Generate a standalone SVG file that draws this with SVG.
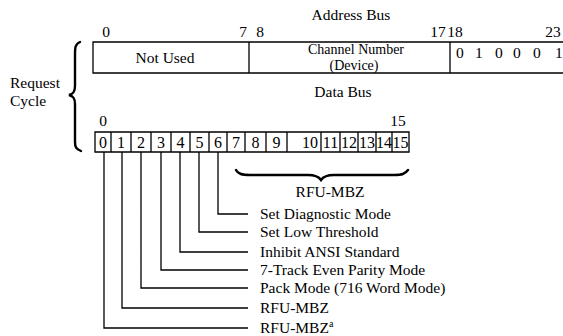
<svg xmlns="http://www.w3.org/2000/svg" width="563" height="336" viewBox="0 0 563 336">
<style>
text{font-family:"Liberation Serif","Times New Roman",serif;font-size:15.5px;fill:#000}
.c{text-anchor:middle}
.d{font-size:16px;text-anchor:middle}
.s{font-size:14px}
.ln{stroke:#000;stroke-width:1.3;fill:none}
.br{stroke:#000;stroke-width:2.4;fill:none;stroke-linecap:round}
</style>
<rect width="563" height="336" fill="#fff"/>
<g id="request-cycle">
<text x="10" y="88">Request</text>
<text x="10" y="105.5">Cycle</text>
<path class="br" d="M80,42 C75,44 75,48 75,55 L75,86 C75,92 73,94 69,95 C73,96 75,98 75,104 L75,142 C75,147 76,149 81,151"/>
</g>
<g id="address-bus">
<text class="c" x="351" y="20">Address Bus</text>
<text class="c" x="106" y="37">0</text>
<text class="c" x="243" y="37">7</text>
<text class="c" x="260" y="37">8</text>
<text class="c" x="438" y="37">17</text>
<text class="c" x="455" y="37">18</text>
<text class="c" x="553" y="37">23</text>
<path class="ln" d="M563,42 H93 V73 H563 M249,42 V73 M450,42 V73"/>
<text class="c" x="165" y="63">Not Used</text>
<text class="c s" x="356" y="54">Channel Number</text>
<text class="c s" x="354" y="69.5">(Device)</text>
<text x="456" y="58">0</text>
<text x="475" y="58">1</text>
<text x="495" y="58">0</text>
<text x="513" y="58">0</text>
<text x="533" y="58">0</text>
<text x="555" y="58">1</text>
</g>
<g id="data-bus">
<text class="c" x="343" y="97">Data Bus</text>
<text class="c" x="103" y="126">0</text>
<text class="c" x="398" y="126">15</text>
<path class="ln" d="M95,132 H409 V152 H95 Z M111,132 V152 M131,132 V152 M151,132 V152 M171,132 V152 M190,132 V152 M209,132 V152 M227,132 V152 M245,132 V152 M266,132 V152 M287,132 V152 M321,132 V152 M340,132 V152 M358,132 V152 M376,132 V152 M392,132 V152"/>
<text class="d" x="103" y="148">0</text>
<text class="d" x="121" y="148">1</text>
<text class="d" x="141" y="148">2</text>
<text class="d" x="161" y="148">3</text>
<text class="d" x="180.5" y="148">4</text>
<text class="d" x="199.5" y="148">5</text>
<text class="d" x="218" y="148">6</text>
<text class="d" x="236" y="148">7</text>
<text class="d" x="255.5" y="148">8</text>
<text class="d" x="276.5" y="148">9</text>
<text class="d" x="310" y="148">10</text>
<text class="d" x="330.5" y="148">11</text>
<text class="d" x="349" y="148">12</text>
<text class="d" x="367" y="148">13</text>
<text class="d" x="384" y="148">14</text>
<text class="d" x="400.5" y="148">15</text>
</g>
<g id="rfu-brace">
<path class="br" d="M236,170 C238,174 242,175 250,175 L308,175 C315,175 319,177 321,180 C323,177 327,175 334,175 L394,175 C402,175 405,174 408,170"/>
<text class="c" x="330" y="197">RFU-MBZ</text>
</g>
<g id="connectors">
<path class="ln" d="M218,152 V214 H248 M199,152 V232 H248 M180,152 V252 H248 M161,152 V270 H248 M141,152 V288 H248 M122,152 V308 H248 M104,152 V328 H248"/>
</g>
<g id="bit-labels">
<text x="260" y="219">Set Diagnostic Mode</text>
<text x="260" y="237">Set Low Threshold</text>
<text x="260" y="257">Inhibit ANSI Standard</text>
<text x="260" y="275">7-Track Even Parity Mode</text>
<text x="260" y="293">Pack Mode (716 Word Mode)</text>
<text x="260" y="313">RFU-MBZ</text>
<text x="260" y="333">RFU-MBZ<tspan font-size="10" dy="-6">a</tspan></text>
</g>
</svg>
